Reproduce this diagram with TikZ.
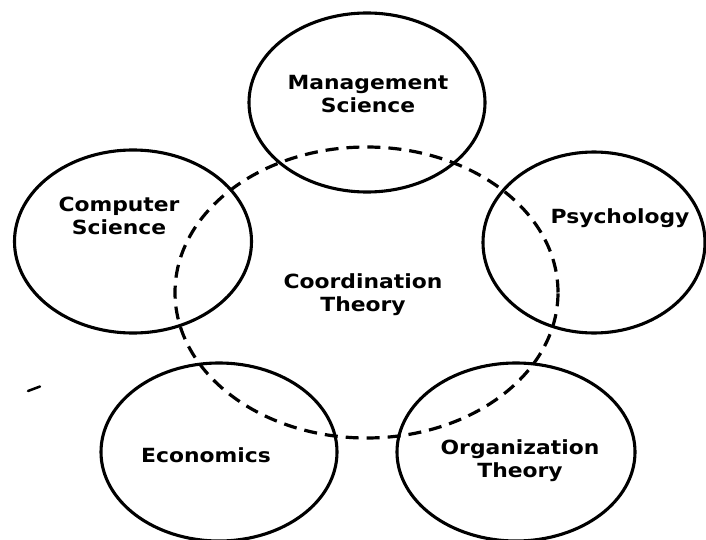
\documentclass[tikz,border=0pt]{standalone}
\usepackage{fontspec}
\setmainfont{DejaVu Sans}[FakeStretch=1.12, UprightFont=* Bold]
\usetikzlibrary{shapes.geometric}
\begin{document}
\begin{tikzpicture}[x=1pt,y=-1pt,
  field/.style={draw=black, line width=3.1pt, ellipse, inner sep=0pt},
  core/.style={draw=black, line width=3.2pt, ellipse, inner sep=0pt, dash pattern=on 13pt off 8pt},
  lbl/.style={align=center, font=\fontsize{19.5}{23}\selectfont, inner sep=0pt}]
\useasboundingbox (0,0) rectangle (706,540);
\node[core, minimum width=383pt, minimum height=291pt] (coord) at (366.5,292.5) {};
\node[field, minimum width=236pt, minimum height=179pt] (ms) at (367,102.5) {};
\node[field, minimum width=237pt, minimum height=183pt] (cs) at (133,241.5) {};
\node[field, minimum width=222pt, minimum height=181pt] (psy) at (594,242.5) {};
\node[field, minimum width=236pt, minimum height=178pt] (eco) at (219,452) {};
\node[field, minimum width=238pt, minimum height=178pt] (org) at (516,452) {};
\node[lbl] (tms) at (368,94) {Management\\Science};
\node[lbl] (tcs) at (119,216) {Computer\\Science};
\node[lbl] (tpsy) at (620,218) {Psychology};
\node[lbl] (tcoord) at (363,295) {Coordination\\Theory};
\node[lbl] (teco) at (206,455) {Economics};
\node[lbl] (torg) at (520,461) {Organization\\Theory};
\coordinate (m1) at (28,391);
\coordinate (m2) at (40,386.5);
\draw[line width=2.5pt, line cap=round] (m1) -- (m2);
\end{tikzpicture}
\end{document}
